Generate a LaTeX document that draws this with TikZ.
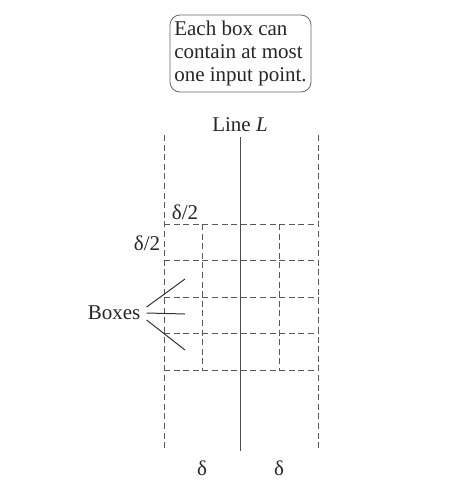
\documentclass[tikz,border=0pt]{standalone}
\usepackage{fontspec}
\setmainfont{Liberation Serif}
\begin{document}
\begin{tikzpicture}[x=0.5pt,y=-0.5pt,
  grid/.style={draw=black!65, dash pattern=on 3pt off 1.8pt, line width=0.4pt},
  label/.style={font=\fontsize{10.5}{11.5}\selectfont, text=black!85, inner sep=0pt}]
\useasboundingbox (0,0) rectangle (475,492);
% note box
\node[label, draw=black!60, rounded corners=5pt, minimum width=70.5pt, minimum height=38.5pt, align=left] (note) at (240.5,53.5) {Each box can\\contain at most\\one input point.};
% strip of width 2 delta round the line
\draw[grid] (164,135) -- (164,450);
\draw[grid] (318,135) -- (318,450);
\node[label] (lineL) at (240,125) {Line \textit{L}};
\coordinate (Ltop) at (240,137);
\coordinate (Lbot) at (240,451);
\draw[black!70, line width=0.5pt] (Ltop) -- (Lbot);
% boxes of side delta/2
\foreach \y in {224,260.5,297,333.5,370}
  \draw[grid] (164,\y) -- (318,\y);
\foreach \x in {202,279}
  \draw[grid] (\x,224) -- (\x,370);
\node[label] (halftop) at (185,212) {δ/2};
\node[label] (halfleft) at (147,243) {δ/2};
\node[label] (deltaleft) at (202,468) {δ};
\node[label] (deltaright) at (279,468) {δ};
% pointer to the boxes
\node[label, inner sep=3pt] (boxes) at (114,313) {Boxes};
\coordinate (box1) at (185,279);
\coordinate (box2) at (185,314);
\coordinate (box3) at (185,350);
\draw[black!80, line width=0.5pt] ([yshift=3pt]boxes.east) -- (box1);
\draw[black!80, line width=0.5pt] (boxes.east) -- (box2);
\draw[black!80, line width=0.5pt] ([yshift=-3.5pt]boxes.east) -- (box3);
\end{tikzpicture}
\end{document}
